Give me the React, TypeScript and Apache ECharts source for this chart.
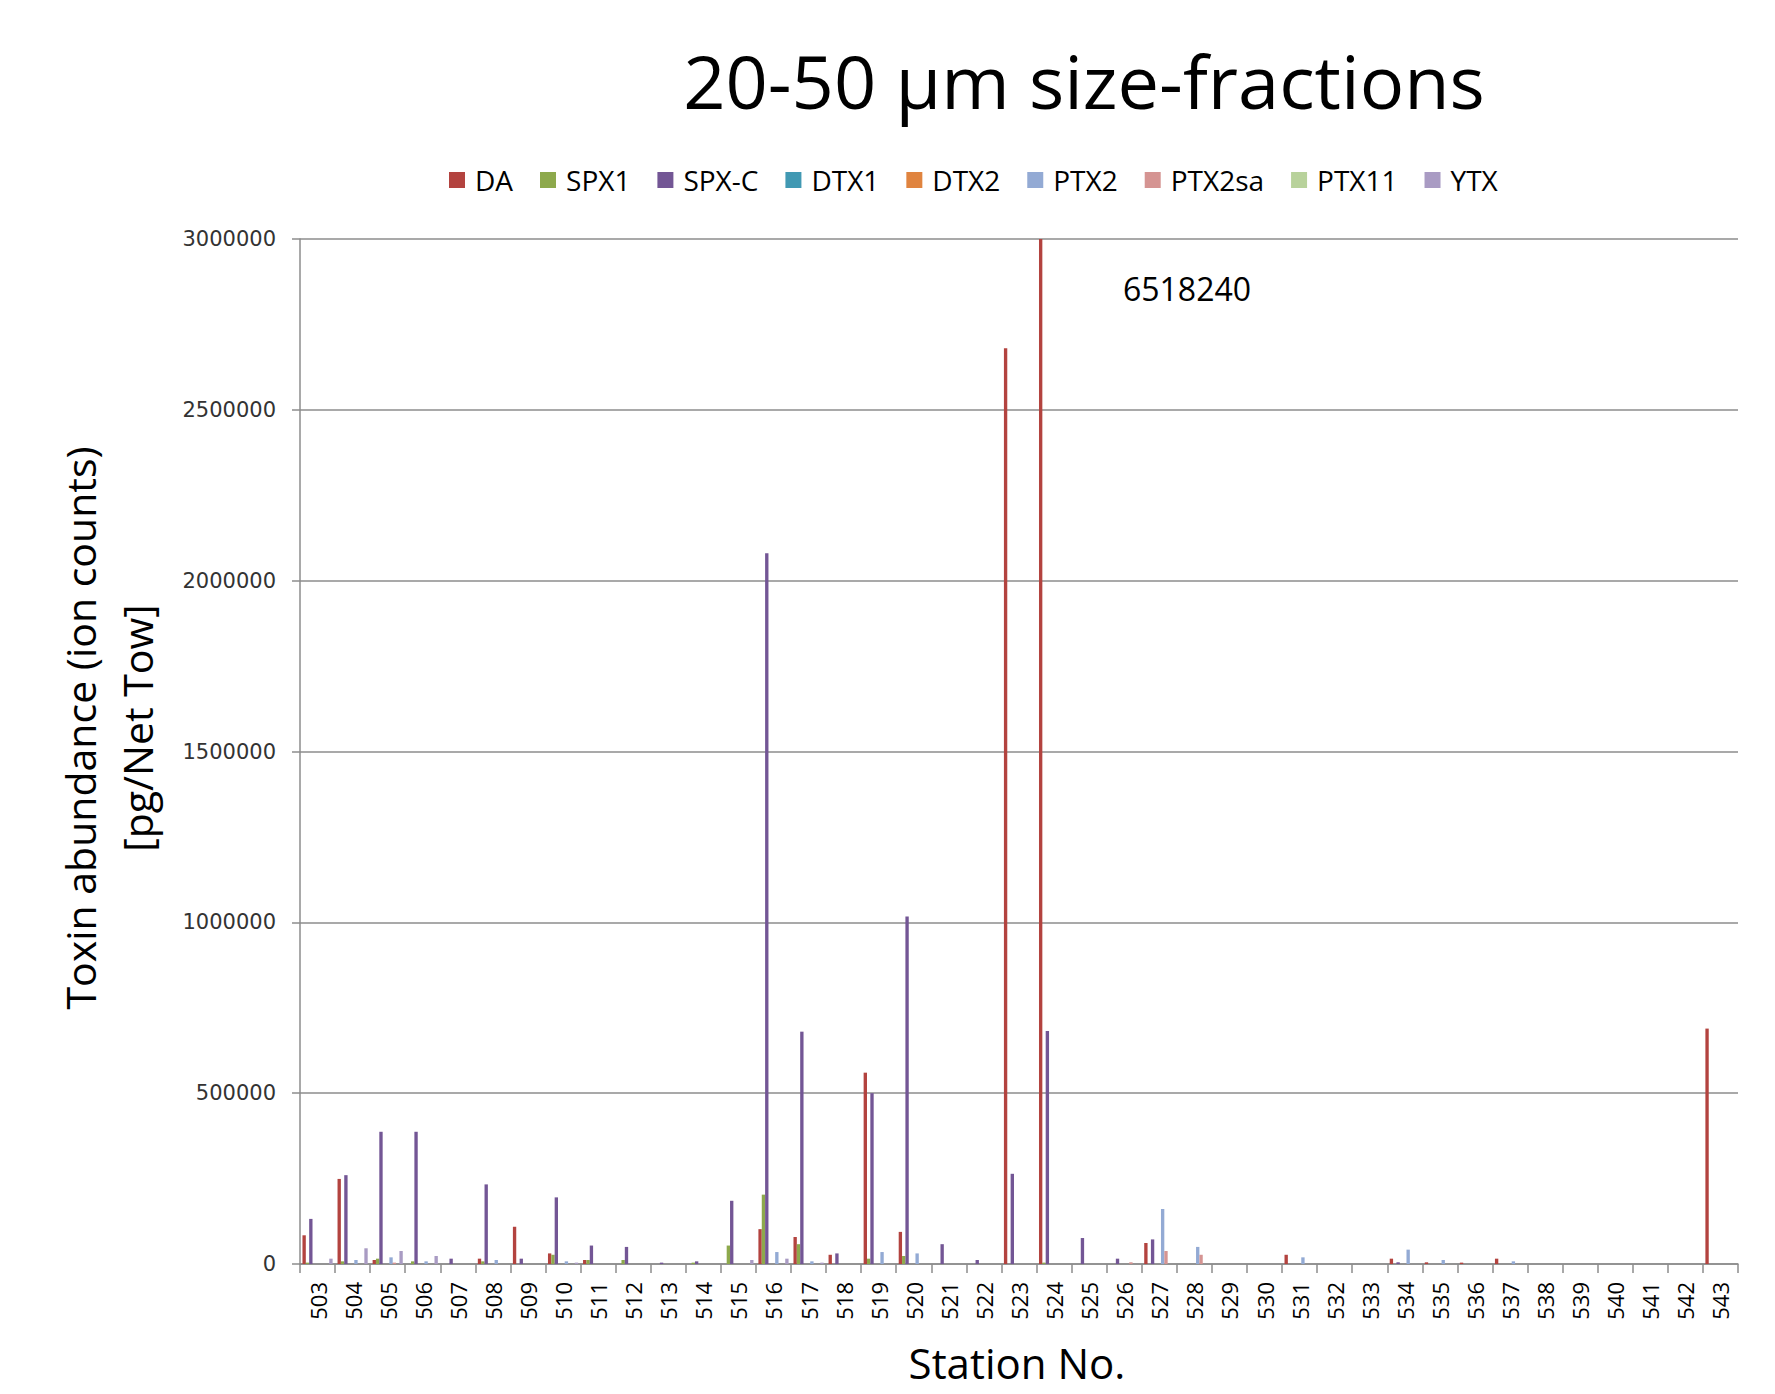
import React, { useEffect, useRef } from "react";
import * as echarts from "echarts";

const categories = [
  "503", "504", "505", "506", "507", "508", "509", "510", "511", "512",
  "513", "514", "515", "516", "517", "518", "519", "520", "521", "522",
  "523", "524", "525", "526", "527", "528", "529", "530", "531", "532",
  "533", "534", "535", "536", "537", "538", "539", "540", "541", "542", "543",
];

const seriesNames = ["DA", "SPX1", "SPX-C", "DTX1", "DTX2", "PTX2", "PTX2sa", "PTX11", "YTX"];
const seriesColors = ["#B3433F", "#8DA94C", "#735695", "#4199B3", "#E0843F", "#93AAD4", "#D59492", "#B8D29B", "#A99BC3"];

const DA = [84000, 249000, 11700, 0, 0, 15600, 109000, 31000, 11700, 0, 0, 0, 0, 102000, 79000, 27000, 560000, 94000, 0, 0, 2680000, 6518240, 0, 0, 61500, 0, 0, 0, 27000, 0, 0, 15600, 4900, 4000, 15600, 0, 0, 0, 0, 0, 689000];
const SPX1 = [4000, 7800, 15600, 7800, 0, 7800, 0, 27000, 11700, 11700, 0, 4000, 54000, 203000, 58000, 0, 15600, 23400, 0, 0, 0, 4000, 0, 0, 0, 0, 0, 0, 0, 0, 0, 0, 0, 0, 0, 0, 0, 0, 0, 0, 0];
const SPXC = [132000, 260000, 387000, 387000, 15600, 233000, 15600, 195000, 54000, 50000, 4000, 7800, 185000, 2080000, 680000, 31000, 500000, 1017000, 58000, 11700, 264000, 682000, 76000, 15600, 72000, 0, 0, 0, 0, 0, 0, 5000, 0, 0, 0, 0, 0, 0, 0, 0, 0];
const DTX1 = [0, 0, 0, 0, 0, 0, 0, 0, 0, 0, 0, 0, 0, 0, 0, 0, 0, 0, 0, 0, 0, 0, 0, 0, 0, 0, 0, 0, 0, 0, 0, 0, 0, 0, 0, 0, 0, 0, 0, 0, 0];
const DTX2 = [0, 0, 0, 0, 0, 0, 0, 0, 0, 0, 0, 0, 0, 0, 0, 0, 0, 0, 0, 0, 0, 0, 0, 0, 0, 0, 0, 0, 0, 0, 0, 0, 0, 0, 0, 0, 0, 0, 0, 0, 0];
const PTX2 = [0, 11700, 19500, 7800, 0, 11700, 0, 7800, 0, 0, 0, 0, 0, 35000, 7800, 0, 35000, 31000, 0, 0, 0, 0, 0, 0, 161000, 50000, 0, 0, 19500, 0, 0, 42000, 11700, 0, 7800, 0, 0, 0, 0, 0, 0];
const PTX2sa = [0, 0, 4000, 0, 0, 0, 0, 0, 0, 0, 0, 0, 0, 0, 0, 0, 0, 0, 0, 0, 0, 0, 0, 5000, 38000, 27000, 0, 0, 0, 0, 0, 0, 0, 0, 0, 0, 0, 0, 0, 0, 0];
const PTX11 = [0, 0, 0, 0, 0, 0, 0, 0, 0, 0, 0, 0, 0, 0, 0, 0, 0, 0, 0, 0, 0, 0, 0, 0, 0, 0, 0, 0, 0, 0, 0, 0, 0, 0, 0, 0, 0, 0, 0, 0, 0];
const YTX = [15600, 46000, 38000, 23400, 0, 0, 0, 4000, 0, 0, 0, 0, 11700, 15600, 4000, 0, 0, 0, 0, 0, 0, 0, 0, 0, 0, 0, 0, 0, 0, 0, 0, 0, 0, 0, 0, 0, 0, 0, 0, 0, 0];

const seriesData = [DA, SPX1, SPXC, DTX1, DTX2, PTX2, PTX2sa, PTX11, YTX];

const yTicks = { min: 0, max: 3000000, interval: 500000 };

const titleText = "20-50 µm size-fractions";
const yTitle = "Toxin abundance (ion counts)\n[pg/Net Tow]";
const xTitle = "Station No.";
const clippedNote = "6518240";

const FONT = "'Open Sans', 'DejaVu Sans', sans-serif";

export default function App() {
  const ref = useRef<HTMLDivElement>(null);

  useEffect(() => {
    if (!ref.current) return;
    const chart = echarts.init(ref.current, null, { renderer: "svg" });
    const gridColor = "#8c8c8c";
    chart.setOption({
      animation: false,
      backgroundColor: "#ffffff",
      textStyle: { fontFamily: FONT },
      grid: { left: 300, right: 37, top: 239, bottom: 130, containLabel: false },
      legend: {
        left: 444,
        top: 161,
        itemWidth: 16,
        itemHeight: 16,
        itemGap: 27,
        icon: "rect",
        data: seriesNames,
        textStyle: { fontFamily: FONT, fontSize: 28, color: "#000", padding: [0, 0, 0, 5] },
      },
      xAxis: {
        type: "category",
        data: categories,
        boundaryGap: true,
        axisLine: { lineStyle: { color: gridColor, width: 1.5 } },
        axisTick: { show: true, alignWithLabel: false, length: 9, interval: 0, lineStyle: { color: gridColor, width: 1.5 } },
        axisLabel: { interval: 0, rotate: 90, margin: 18, fontFamily: FONT, fontSize: 22, color: "#000" },
        splitLine: { show: false },
      },
      yAxis: {
        type: "value",
        min: yTicks.min,
        max: yTicks.max,
        interval: yTicks.interval,
        axisLine: { show: true, lineStyle: { color: gridColor, width: 1.5 } },
        axisTick: { show: true, length: 8, lineStyle: { color: gridColor, width: 1.5 } },
        axisLabel: {
          margin: 24,
          fontFamily: "'DejaVu Sans', sans-serif",
          fontSize: 21,
          color: "#333",
          formatter: (v: number) => String(v),
        },
        splitLine: { show: true, lineStyle: { color: gridColor, width: 1.5 } },
      },
      series: seriesNames.map((name, i) => ({
        name,
        type: "bar",
        data: seriesData[i],
        barGap: "0%",
        barCategoryGap: "14%",
        clip: true,
        itemStyle: { color: seriesColors[i] },
      })),
      color: seriesColors,
      graphic: [
        {
          type: "text",
          x: 1084,
          y: 80,
          style: {
            text: titleText,
            font: `74px ${FONT}`,
            fill: "#000",
            textAlign: "center",
            textVerticalAlign: "middle",
          },
        },
        {
          type: "text",
          x: 108,
          y: 728,
          rotation: Math.PI / 2,
          style: {
            text: yTitle,
            font: `41px ${FONT}`,
            lineHeight: 57,
            fill: "#000",
            textAlign: "center",
            textVerticalAlign: "middle",
          },
        },
        {
          type: "text",
          x: 1017,
          y: 1362,
          style: {
            text: xTitle,
            font: `42px ${FONT}`,
            lineHeight: 42,
            fill: "#000",
            textAlign: "center",
            textVerticalAlign: "middle",
          },
        },
        {
          type: "text",
          x: 1187,
          y: 288,
          style: {
            text: clippedNote,
            font: `32px ${FONT}`,
            fill: "#000",
            textAlign: "center",
            textVerticalAlign: "middle",
          },
        },
      ],
    });
    return () => chart.dispose();
  }, []);

  return (
    <div
      ref={ref}
      style={{ position: "fixed", left: 0, top: 0, width: 1775, height: 1394, background: "#fff" }}
    />
  );
}
